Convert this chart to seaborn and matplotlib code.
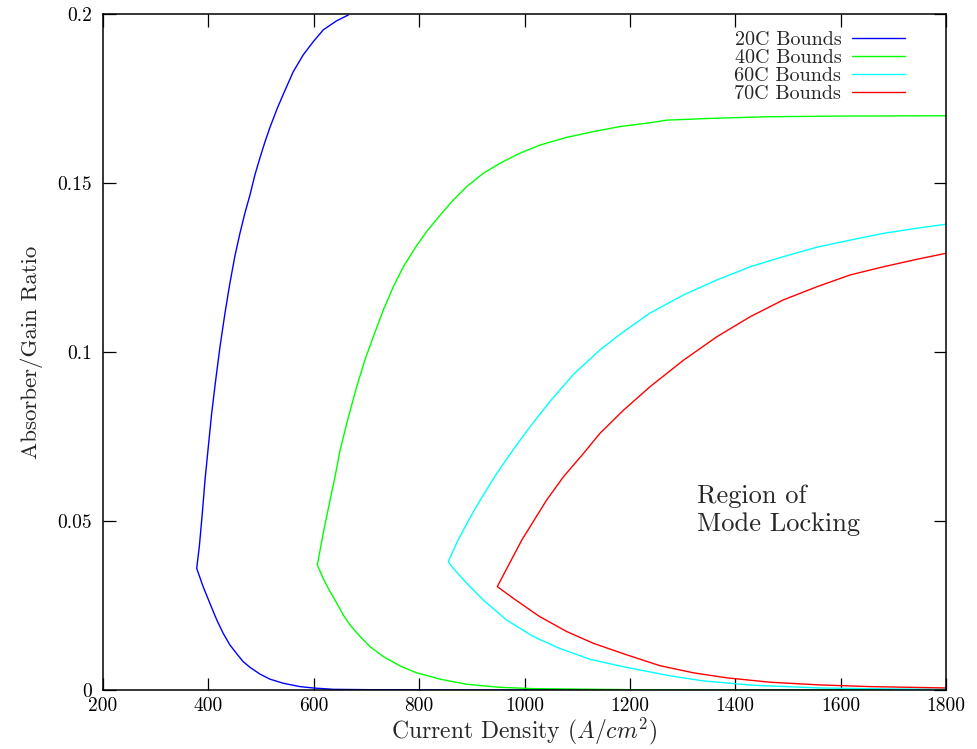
import matplotlib
matplotlib.use("Agg")
import matplotlib.pyplot as plt
import seaborn as sns

# Bound curves: lower branch (from 1800 back to the cusp)
# followed by the upper branch (from the cusp outwards)
x_20c = [1800, 1200, 900, 700, 637, 599, 574, 542, 517, 498, 479, 466, 454, 441, 428, 416, 403, 390, 377.8,
         382.8, 388.5, 393.6, 399.9, 406.3, 413.9, 422.1, 431.5, 441, 450.5, 460, 469.5, 479, 488.5, 498,
         507.5, 517, 530, 542, 561, 580, 599, 618, 643.5, 665.6]
y_20c = [0.0, 0.0, 0.0, 0.0001, 0.0002, 0.0006, 0.001, 0.002, 0.0032, 0.0047, 0.0067, 0.0084, 0.0107,
         0.0133, 0.0168, 0.0207, 0.0256, 0.0306, 0.036,
         0.0424, 0.0523, 0.0621, 0.072, 0.0819, 0.0917, 0.1016, 0.1115, 0.1205, 0.1285, 0.1352, 0.1412,
         0.1465, 0.1525, 0.1575, 0.1622, 0.1665, 0.1718, 0.1762, 0.1829, 0.1879, 0.1918, 0.1953, 0.198, 0.1997]

x_40c = [1800, 1400, 1200, 1017, 953, 890, 840, 795, 764, 732, 707, 688, 669, 656, 644, 631, 618, 606.8,
         618, 631, 641, 650, 666, 681.5, 697, 713, 732, 751, 770, 792, 814, 840, 865, 890, 922, 953,
         991, 1029, 1080, 1131, 1181, 1238, 1270, 1350, 1460, 1600, 1800]
y_40c = [0.0, 0.0, 0.0001, 0.0004, 0.0008, 0.0017, 0.0032, 0.0051, 0.0071, 0.0099, 0.0128, 0.0158,
         0.0192, 0.0222, 0.0256, 0.0291, 0.033, 0.037,
         0.0464, 0.0562, 0.0636, 0.071, 0.0809, 0.0897, 0.0976, 0.1045, 0.1124, 0.1193, 0.1252, 0.1307,
         0.1356, 0.1405, 0.145, 0.1489, 0.1529, 0.1558, 0.1588, 0.1612, 0.1635, 0.1652, 0.1667, 0.1678,
         0.1686, 0.1691, 0.1696, 0.1698, 0.1699]

x_60c = [1800, 1700, 1561, 1434, 1339, 1276, 1190, 1124, 1067, 1017, 966, 922, 890, 862, 855.4,
         874, 895, 916, 947, 985, 1017, 1048, 1093, 1143, 1188, 1238, 1302, 1365, 1428, 1491, 1555, 1618,
         1681, 1744, 1800]
y_60c = [0.0002, 0.0003, 0.0006, 0.0014, 0.0027, 0.0042, 0.0068, 0.0091, 0.0123, 0.0158, 0.0207,
         0.0266, 0.0316, 0.0365, 0.038,
         0.0444, 0.0505, 0.0562, 0.064, 0.0725, 0.0792, 0.0853, 0.0934, 0.1006, 0.106, 0.1115, 0.1169,
         0.1213, 0.1252, 0.1282, 0.131, 0.1331, 0.1351, 0.1366, 0.1378]

x_70c = [1800, 1766, 1656, 1561, 1466, 1384, 1320, 1257, 1194, 1131, 1080, 1029, 979, 948.4,
         995, 1042, 1074, 1112, 1143, 1188, 1238, 1302, 1365, 1428, 1491, 1555, 1618, 1681, 1744, 1800]
y_70c = [0.0006, 0.0007, 0.001, 0.0015, 0.0023, 0.0036, 0.0051, 0.0072, 0.0104, 0.0138, 0.0173,
         0.0217, 0.0271, 0.0306,
         0.0444, 0.0562, 0.0631, 0.07, 0.0759, 0.0828, 0.0897, 0.0976, 0.1045, 0.1104, 0.1154, 0.1193,
         0.1228, 0.1252, 0.1274, 0.1292]

labels = ["20C Bounds", "40C Bounds", "60C Bounds", "70C Bounds"]
colors = ["#0000ff", "#00ff00", "#00ffff", "#ff0000"]

x_ticks = [200, 400, 600, 800, 1000, 1200, 1400, 1600, 1800]
y_ticks = [0, 0.05, 0.1, 0.15, 0.2]
y_tick_labels = ["0", "0.05", "0.1", "0.15", "0.2"]

sns.set_theme(style="ticks")
plt.rcParams["font.family"] = ["cmr10", "DejaVu Serif"]
plt.rcParams["mathtext.fontset"] = "cm"
plt.rcParams["axes.formatter.use_mathtext"] = True

fig = plt.figure(figsize=(9.78, 7.49), dpi=100)
ax = fig.add_axes([103 / 978, 1 - 690 / 749, 843 / 978, 676 / 749])

curves = [(x_20c, y_20c), (x_40c, y_40c), (x_60c, y_60c), (x_70c, y_70c)]
for (xs, ys), lab, col in zip(curves, labels, colors):
    sns.lineplot(x=xs, y=ys, sort=False, estimator=None, color=col,
                 linewidth=1.0, label=lab, ax=ax)

ax.set_xlim(200, 1800)
ax.set_ylim(0, 0.2)
ax.set_xticks(x_ticks)
ax.set_xticklabels([str(v) for v in x_ticks])
ax.set_yticks(y_ticks)
ax.set_yticklabels(y_tick_labels)
ax.tick_params(direction="in", top=True, right=True, length=9, width=0.9,
               labelsize=14, colors="black")
ax.tick_params(axis="y", pad=8)
ax.tick_params(axis="x", pad=5)
for sp in ax.spines.values():
    sp.set_visible(True)
    sp.set_linewidth(1.1)
    sp.set_color("black")

ax.set_xlabel("Current Density ($A/cm^2$)", fontsize=17, labelpad=1)
ax.set_ylabel("Absorber/Gain Ratio", fontsize=16.5, labelpad=10)

ax.text(1327, 0.0608, "Region of\nMode Locking", fontsize=19, ha="left", va="top",
        linespacing=1.2)

ax.legend(loc="upper right", bbox_to_anchor=(0.951, 0.975), frameon=False,
          markerfirst=False, fontsize=14.5, handlelength=2.6, handletextpad=0.55,
          labelspacing=0.0, borderpad=0, borderaxespad=0)

fig.savefig("out.png", dpi=100)
